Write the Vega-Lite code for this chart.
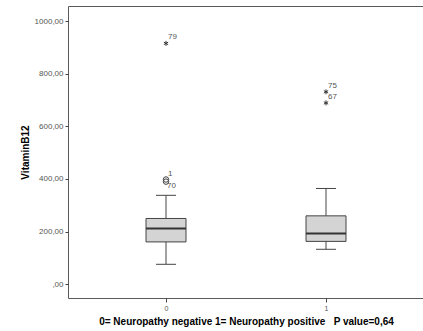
{
  "$schema": "https://vega.github.io/schema/vega-lite/v6.json",
  "width": 356,
  "height": 292,
  "autosize": {"type": "none"},
  "padding": {"left": 68, "top": 6, "right": 0, "bottom": 33},
  "background": "white",
  "config": {
    "view": {"stroke": "#5a5a5a", "strokeWidth": 1},
    "font": "Liberation Sans"
  },
  "datasets": {
    "stats": [
      {"group": "0", "lo": 76, "q1": 161, "median": 212, "q3": 250, "hi": 338},
      {"group": "1", "lo": 133, "q1": 163, "median": 193, "q3": 260, "hi": 364}
    ],
    "outliers": [
      {"group": "0", "value": 915, "case": "79", "type": "extreme"},
      {"group": "0", "value": 398, "case": "1", "type": "outlier"},
      {"group": "0", "value": 390, "case": "70", "type": "outlier"},
      {"group": "1", "value": 731, "case": "75", "type": "extreme"},
      {"group": "1", "value": 689, "case": "67", "type": "extreme"}
    ]
  },
  "encoding": {
    "x": {
      "field": "group",
      "type": "ordinal",
      "scale": {"type": "point", "padding": 0.6125},
      "axis": {
        "labelAngle": 0,
        "labelFontSize": 7,
        "labelColor": "#555555",
        "labelPadding": 2,
        "tickSize": 4,
        "tickColor": "#444444",
        "domain": false,
        "title": "0= Neuropathy negative 1= Neuropathy positive \u00a0\u00a0P value=0,64",
        "titleFontSize": 10,
        "titleFontWeight": "bold",
        "titleColor": "#000000",
        "titlePadding": 5
      }
    }
  },
  "layer": [
    {
      "data": {"name": "stats"},
      "mark": {"type": "rule", "color": "#444444"},
      "encoding": {
        "y": {
          "field": "lo",
          "type": "quantitative",
          "scale": {"domain": [-52, 1057], "nice": false, "zero": false},
          "axis": {
            "values": [0, 200, 400, 600, 800, 1000],
            "labelExpr": "datum.value == 0 ? ',00' : replace(format(datum.value, '.2f'), '.', ',')",
            "grid": false,
            "domain": false,
            "tickSize": 3,
            "tickColor": "#444444",
            "labelFontSize": 8,
            "labelColor": "#555555",
            "labelPadding": 2,
            "title": "VitaminB12",
            "titleFontSize": 10,
            "titleFontWeight": "bold",
            "titleColor": "#000000",
            "titlePadding": 4
          }
        },
        "y2": {"field": "q1"}
      }
    },
    {
      "data": {"name": "stats"},
      "mark": {"type": "rule", "color": "#444444"},
      "encoding": {
        "y": {"field": "q3", "type": "quantitative"},
        "y2": {"field": "hi"}
      }
    },
    {
      "data": {"name": "stats"},
      "mark": {"type": "bar", "width": 40, "fill": "#d4d4d4", "stroke": "#444444", "strokeWidth": 1},
      "encoding": {
        "y": {"field": "q1", "type": "quantitative"},
        "y2": {"field": "q3"}
      }
    },
    {
      "data": {"name": "stats"},
      "mark": {"type": "tick", "size": 40, "thickness": 2, "color": "#333333", "opacity": 1},
      "encoding": {
        "y": {"field": "median", "type": "quantitative"}
      }
    },
    {
      "data": {"name": "stats"},
      "mark": {"type": "tick", "size": 20, "thickness": 1, "color": "#444444", "opacity": 1},
      "encoding": {
        "y": {"field": "lo", "type": "quantitative"}
      }
    },
    {
      "data": {"name": "stats"},
      "mark": {"type": "tick", "size": 20, "thickness": 1, "color": "#444444", "opacity": 1},
      "encoding": {
        "y": {"field": "hi", "type": "quantitative"}
      }
    },
    {
      "data": {"name": "outliers"},
      "transform": [{"filter": "datum.type == 'extreme'"}],
      "mark": {
        "type": "point",
        "shape": "M0,-1L0,1M-0.866,-0.5L0.866,0.5M-0.866,0.5L0.866,-0.5",
        "filled": false,
        "size": 25,
        "stroke": "#333333",
        "strokeWidth": 1,
        "opacity": 1
      },
      "encoding": {
        "y": {"field": "value", "type": "quantitative"}
      }
    },
    {
      "data": {"name": "outliers"},
      "transform": [{"filter": "datum.type == 'outlier'"}],
      "mark": {
        "type": "point",
        "shape": "circle",
        "filled": false,
        "size": 30,
        "stroke": "#444444",
        "strokeWidth": 1,
        "opacity": 1
      },
      "encoding": {
        "y": {"field": "value", "type": "quantitative"}
      }
    },
    {
      "data": {"name": "outliers"},
      "transform": [{"filter": "datum.case != '70'"}],
      "mark": {"type": "text", "align": "left", "baseline": "middle", "dx": 2, "dy": -6, "fontSize": 8, "color": "#555555"},
      "encoding": {
        "y": {"field": "value", "type": "quantitative"},
        "text": {"field": "case"}
      }
    },
    {
      "data": {"name": "outliers"},
      "transform": [{"filter": "datum.case == '70'"}],
      "mark": {"type": "text", "align": "left", "baseline": "middle", "dx": 1, "dy": 4, "fontSize": 8, "color": "#555555"},
      "encoding": {
        "y": {"field": "value", "type": "quantitative"},
        "text": {"field": "case"}
      }
    }
  ]
}
